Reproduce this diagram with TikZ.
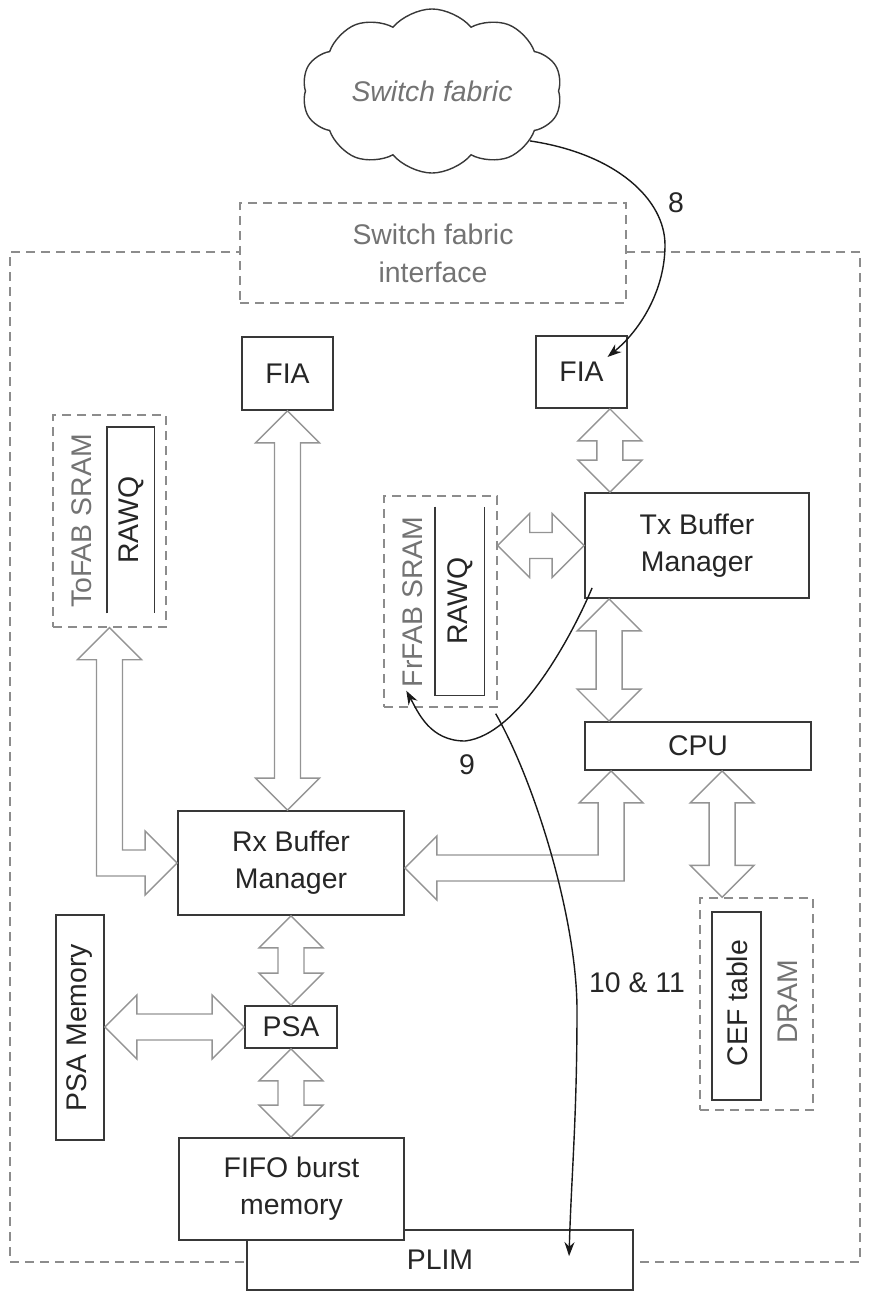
\documentclass[tikz,border=0pt]{standalone}
\usepackage{fontspec}
\setmainfont{Liberation Sans}
\usetikzlibrary{calc,shapes.symbols,arrows.meta}
\definecolor{boxc}{gray}{0.22}
\definecolor{dashc}{gray}{0.55}
\definecolor{dtext}{gray}{0.45}
\definecolor{hollc}{gray}{0.58}
\newcommand{\mfont}{\fontsize{14.2}{17.5}\selectfont}
\def\harrH{16pt}
\def\harrS{6.5pt}
\def\harrL{16pt}
\newcommand{\HollowV}[2]{\draw[hollow] let \p1=(#1), \p2=(#2) in
  (\x1,\y1) -- (\x1+\harrH,\y1-\harrL) -- (\x1+\harrS,\y1-\harrL) -- (\x1+\harrS,\y2+\harrL)
  -- (\x1+\harrH,\y2+\harrL) -- (\x1,\y2) -- (\x1-\harrH,\y2+\harrL) -- (\x1-\harrS,\y2+\harrL)
  -- (\x1-\harrS,\y1-\harrL) -- (\x1-\harrH,\y1-\harrL) -- cycle;}
\newcommand{\HollowH}[2]{\draw[hollow] let \p1=(#1), \p2=(#2) in
  (\x1,\y2) -- (\x1+\harrL,\y2+\harrH) -- (\x1+\harrL,\y2+\harrS) -- (\x2-\harrL,\y2+\harrS)
  -- (\x2-\harrL,\y2+\harrH) -- (\x2,\y2) -- (\x2-\harrL,\y2-\harrH) -- (\x2-\harrL,\y2-\harrS)
  -- (\x1+\harrL,\y2-\harrS) -- (\x1+\harrL,\y2-\harrH) -- cycle;}
\newcommand{\HollowDR}[2]{\draw[hollow] let \p1=(#1), \p2=(#2) in
  (\x1,\y1) -- (\x1+\harrH,\y1-\harrL) -- (\x1+\harrS,\y1-\harrL) -- (\x1+\harrS,\y2+\harrS)
  -- (\x2-\harrL,\y2+\harrS) -- (\x2-\harrL,\y2+\harrH) -- (\x2,\y2) -- (\x2-\harrL,\y2-\harrH)
  -- (\x2-\harrL,\y2-\harrS) -- (\x1-\harrS,\y2-\harrS) -- (\x1-\harrS,\y1-\harrL)
  -- (\x1-\harrH,\y1-\harrL) -- cycle;}
\newcommand{\HollowDL}[2]{\draw[hollow] let \p1=(#1), \p2=(#2) in
  (\x1,\y1) -- (\x1+\harrH,\y1-\harrL) -- (\x1+\harrS,\y1-\harrL) -- (\x1+\harrS,\y2-\harrS)
  -- (\x2+\harrL,\y2-\harrS) -- (\x2+\harrL,\y2-\harrH) -- (\x2,\y2) -- (\x2+\harrL,\y2+\harrH)
  -- (\x2+\harrL,\y2+\harrS) -- (\x1-\harrS,\y2+\harrS) -- (\x1-\harrS,\y1-\harrL)
  -- (\x1-\harrH,\y1-\harrL) -- cycle;}
\begin{document}
\begin{tikzpicture}[x=0.5pt,y=-0.5pt,
  box/.style={draw=boxc, line width=0.9pt, fill=white, inner sep=0pt, align=center, font=\mfont, text=black!85},
  dbox/.style={draw=dashc, line width=0.7pt, dash pattern=on 4.5pt off 3pt, inner sep=0pt},
  dlabel/.style={font=\mfont, text=dtext, inner sep=0pt, align=center},
  tlabel/.style={font=\mfont, text=black!85, inner sep=0pt, align=center},
  hollow/.style={draw=hollc, line width=0.7pt, fill=white, line join=miter},
  flow/.style={draw=black!90, line width=0.7pt, -{Stealth[length=7pt,width=5pt]}},
  qline/.style={draw=boxc, line width=0.9pt}
]
\useasboundingbox (0,0) rectangle (877,1292);
% outer frame
\node[dbox, minimum width=425pt, minimum height=505pt] (frame) at (435,757) {};
% cloud
\node[cloud, draw=boxc, line width=0.7pt, cloud puffs=10, cloud puff arc=100, aspect=1.65,
      minimum width=130pt, minimum height=79pt, inner sep=0pt, font=\mfont\itshape, text=dtext] (cloud) at (432,91) {Switch fabric};
% switch fabric interface
\node[dbox, fill=white, minimum width=193pt, minimum height=50pt, font=\mfont, text=dtext, align=center] (sfi) at (433,253) {Switch fabric\\[1.5pt]interface};
% FIAs
\node[box, minimum width=45.5pt, minimum height=36.5pt] (fiaL) at (287.5,373.5) {FIA};
\node[box, minimum width=45.5pt, minimum height=36pt] (fiaR) at (581.5,372) {FIA};
% ToFAB SRAM
\node[dbox, minimum width=56.5pt, minimum height=106pt] (tofab) at (109.5,521) {};
\node[dlabel, rotate=90] (tofabL) at (82,521) {ToFAB SRAM};
\node[inner sep=0pt, minimum width=23.5pt, minimum height=93pt] (rawq1) at (130.5,520) {};
\draw[qline] (rawq1.south west) -- (rawq1.north west) -- (rawq1.north east) -- (rawq1.south east);
\node[tlabel, rotate=90] (rawq1L) at (131,520) {RAWQ};
% FrFAB SRAM
\node[dbox, minimum width=56.5pt, minimum height=105.5pt] (frfab) at (440.5,601.5) {};
\node[dlabel, rotate=90] (frfabL) at (413,602) {FrFAB SRAM};
\node[inner sep=0pt, minimum width=24.5pt, minimum height=94pt] (rawq2) at (459.5,601) {};
\draw[qline] (rawq2.north west) -- (rawq2.south west) -- (rawq2.south east) -- (rawq2.north east);
\node[tlabel, rotate=90] (rawq2L) at (460,601) {RAWQ};
% Tx, CPU
\node[box, minimum width=112pt, minimum height=52.5pt] (tx) at (697,545.5) {Tx Buffer\\[1pt]Manager};
\node[box, minimum width=113pt, minimum height=24pt] (cpu) at (698,746) {CPU};
% Rx, PSA
\node[box, minimum width=113pt, minimum height=52pt] (rx) at (291,863) {Rx Buffer\\[1pt]Manager};
\node[box, minimum width=46pt, minimum height=21pt] (psa) at (291,1027) {PSA};
\node[box, minimum width=24pt, minimum height=112.5pt] (psamem) at (80,1027.5) {};
\node[tlabel, rotate=90] (psamemL) at (80,1027.5) {PSA Memory};
% PLIM and FIFO
\node[box, minimum width=193pt, minimum height=30pt] (plim) at (440,1260) {PLIM};
\node[box, minimum width=112.5pt, minimum height=51pt] (fifo) at (291.5,1189) {FIFO burst\\[1pt]memory};
% DRAM
\node[dbox, minimum width=56.5pt, minimum height=106pt] (dram) at (756.5,1004) {};
\node[box, minimum width=24.5pt, minimum height=94pt] (cef) at (736.5,1006) {};
\node[tlabel, rotate=90] (cefL) at (737,1003) {CEF table};
\node[dlabel, rotate=90] (dramL) at (788,1002) {DRAM};
% hollow double arrows
\HollowV{fiaL.south}{rx.north}
\HollowV{$(fiaR.south east)+(-18,0)$}{tx.north}
\HollowH{frfab.east}{tx.west}
\HollowV{$(tx.south west)+(25,0)$}{cpu.north}
\HollowV{$(cpu.south west)+(138,0)$}{dram.north}
\HollowV{rx.south}{psa.north}
\HollowV{psa.south}{fifo.north}
\HollowH{psamem.east}{psa.west}
\HollowDR{tofab.south}{rx.west}
\HollowDL{$(cpu.south west)+(27,0)$}{$(rx.east)+(0,5)$}
% flow arrows
\coordinate (f8end) at ($(fiaR.center)+(26,-15)$);
\draw[flow] (cloud.-27) .. controls +(87,13) and +(0,-45) .. (665,245)
   .. controls +(0,45) and +(33,-27) .. (f8end);
\coordinate (f9start) at ($(tx.south west)+(8,-11)$);
\coordinate (f9end) at ($(frfab.south west)+(23,-17)$);
\draw[flow] (f9start) .. controls +(-18,43) and +(55,-6) .. (465,741)
   .. controls +(-35,0) and +(12,22) .. (f9end);
\coordinate (f10start) at ($(frfab.south east)+(-2,6)$);
\coordinate (f10end) at ($(plim.north west)+(323,27)$);
\draw[flow] (f10start) .. controls +(40,70) and +(0,-90) .. (577,1010)
   .. controls +(0,110) and +(2,-77) .. (f10end);
% labels
\node[tlabel] (l8) at (676,203) {8};
\node[tlabel] (l9) at (467,765) {9};
\node[tlabel] (l10) at (637,983) {10 \& 11};
\end{tikzpicture}
\end{document}
